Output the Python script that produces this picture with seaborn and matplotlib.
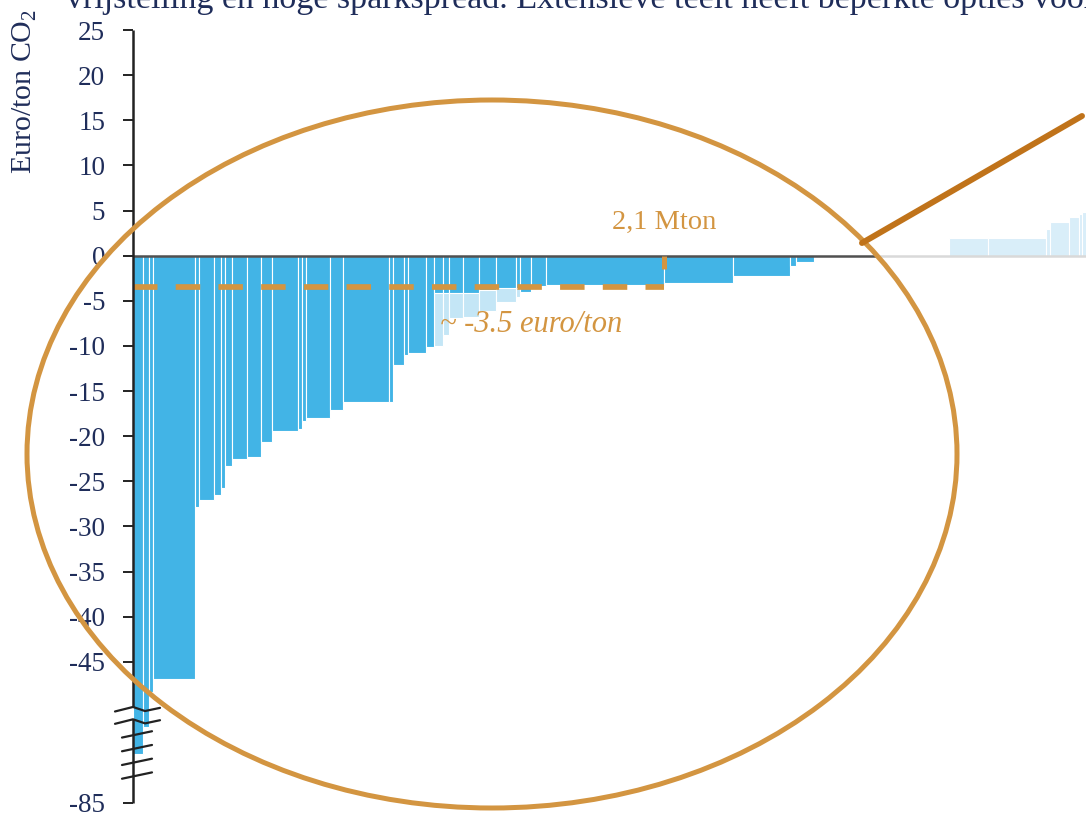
import numpy as np
import matplotlib
matplotlib.use("Agg")
import matplotlib.pyplot as plt
from matplotlib.patches import Ellipse
from matplotlib.lines import Line2D
import seaborn as sns

# Abatement measures in merit order: width = reduction potential (Mton CO2),
# height = cost (euro/ton CO2)
volumes = [0.040, 0.024, 0.016, 0.166, 0.016, 0.059, 0.028, 0.016, 0.028, 0.059,
           0.055, 0.043, 0.103, 0.016, 0.016, 0.095, 0.051, 0.182, 0.016, 0.043,
           0.016, 0.071, 0.032, 0.036, 0.024, 0.055, 0.063, 0.067, 0.079, 0.016,
           0.043, 0.059, 0.467, 0.273, 0.225, 0.024, 0.071, 0.032, 0.502, 0.154,
           0.229, 0.016, 0.075, 0.040, 0.012, 0.040]
costs = [-67.0, -57.3, -48.3, -46.9, -27.8, -27.1, -26.5, -25.7, -23.3, -22.5,
         -22.3, -20.7, -19.4, -19.2, -18.3, -18.0, -17.1, -16.2, -16.2, -12.1,
         -11.0, -10.8, -10.1, -4.1, -4.1, -4.1, -4.1, -3.8, -3.6, -3.6,
         -4.0, -3.4, -3.3, -3.0, -2.3, -1.1, -0.7, -0.15, 0.0, 2.0,
         2.0, 3.0, 3.7, 4.3, 4.6, 4.8]
# cost of the same measures under the less favourable variant (NaN = identical)
nan = np.nan
costs_variant = [nan] * 23 + [-10.0, -8.8, -6.9, -6.8, -6.1, -5.1, -4.6] + [nan] * 16

tick_values = [25, 20, 15, 10, 5, 0, -5, -10, -15, -20, -25, -30, -35, -40, -45, -85]
break_ticks = [-60, -65, -70, -75]
avg_cost = -3.5          # average cost of the package
package_volume = 2.1     # Mton reduced by the package
focus_limit = 2.94       # measures beyond this volume are shown faded
x_max = 3.768

title_text = ("vrijstelling en hoge sparkspread. Extensieve teelt heeft beperkte "
              "opties voor")
ylabel_text = "Euro/ton CO$_2$"
volume_label = "2,1 Mton"
cost_label = "~ -3.5 euro/ton"

BLUE = "#42b4e6"
BLUE_LIGHT = "#c4e6f6"
BLUE_FADED = "#d9eef9"
ORANGE = "#d39541"
ORANGE_DARK = "#c0731a"
NAVY = "#1f2d5a"

sns.set_theme(style="white")
plt.rcParams["font.family"] = ["Liberation Serif", "DejaVu Serif"]
plt.rcParams["mathtext.fontset"] = "custom"
plt.rcParams["mathtext.rm"] = "Liberation Serif"

# broken value axis: linear above -50, compressed below
BREAK, K = -50.0, 0.304


def fwd(y):
    y = np.asarray(y, dtype=float)
    return np.where(y >= BREAK, y, BREAK + (y - BREAK) * K)


def inv(y):
    y = np.asarray(y, dtype=float)
    return np.where(y >= BREAK, y, BREAK + (y - BREAK) / K)


W, H = 1086, 814
fig = plt.figure(figsize=(W / 100, H / 100), dpi=100)
ax = fig.add_axes([133 / W, 11 / H, 953 / W, 773 / H])
ax.set_yscale("function", functions=(fwd, inv))
ax.set_ylim(-85, 25)
ax.set_xlim(0, x_max)

lefts = np.concatenate([[0.0], np.cumsum(volumes)[:-1]])
vols = np.array(volumes)
c_main = np.array(costs)
c_var = np.array(costs_variant)
faded = lefts >= focus_limit

# variant costs behind the main bars
mask = ~np.isnan(c_var)
ax.bar(lefts[mask], c_var[mask], width=vols[mask], align="edge",
       color=BLUE_LIGHT, edgecolor="white", linewidth=0.8, zorder=1)
ax.bar(lefts[~faded], c_main[~faded], width=vols[~faded], align="edge",
       color=BLUE, edgecolor="white", linewidth=0.8, zorder=2)
ax.bar(lefts[faded], c_main[faded], width=vols[faded], align="edge",
       color=BLUE_FADED, edgecolor="white", linewidth=0.8, zorder=2)

# zero line: dark inside the highlighted part, light beyond
ax.plot([0, focus_limit], [0, 0], color="#505050", lw=1.8, zorder=4,
        solid_capstyle="butt")
ax.plot([focus_limit, x_max], [0, 0], color="#d9d9d9", lw=1.8, zorder=4,
        solid_capstyle="butt")

# average cost of the package, and the package volume marker
sns.lineplot(x=[0, package_volume], y=[avg_cost, avg_cost], ax=ax, color=ORANGE,
             lw=4.1, linestyle=(0, (4.3, 3.2)), zorder=5)
ax.plot([package_volume, package_volume], [0, -1.5], color=ORANGE, lw=3.6,
        zorder=5, solid_capstyle="butt")
ax.text(package_volume, 3.7, volume_label, ha="center", va="center",
        color=ORANGE, fontsize=20.5)
ax.text(1.214, -7.6, cost_label, ha="left", va="center", color=ORANGE,
        fontsize=22, style="italic")

# axis styling
sns.despine(ax=ax, left=True, bottom=True, right=True, top=True)
ax.set_yticks(tick_values)
ax.set_yticklabels([str(v) for v in tick_values])
ax.set_xticks([])
ax.tick_params(axis="y", which="major", length=7, width=1.4, color="#222222",
               pad=13, labelsize=19.5, labelcolor=NAVY, left=True)
ax.yaxis.set_minor_locator(matplotlib.ticker.NullLocator())

ytrans = ax.get_yaxis_transform()
px = 1 / 953.0  # one pixel in axes-x units
spine_kw = dict(color="#222222", lw=1.8, transform=ytrans, clip_on=False,
                zorder=6, solid_capstyle="butt")
ax.plot([0, 0], [25, BREAK], **spine_kw)
ax.plot([0, 0], [-54.5, -85], **spine_kw)

# break marks on the axis
for yb in [BREAK, -54.5]:
    xs = np.array([-18, 0, 12, 27]) * px
    dy = np.array([-0.5, 0.0, -0.45, -0.1])
    ys = fwd(yb) + dy
    ax.plot(xs, inv(ys), color="#222222", lw=1.6, transform=ytrans,
            clip_on=False, zorder=7)
for yt in break_ticks:
    ys = fwd(yt) + np.array([-0.35, 0.35])
    ax.plot(np.array([-11, 19]) * px, inv(ys), color="#222222", lw=1.6,
            transform=ytrans, clip_on=False, zorder=7)

ax.set_ylabel("")
fig.text(25 / W, 1 - 91 / H, ylabel_text, rotation=90, ha="center",
         va="center", color=NAVY, fontsize=21.5)
fig.text(66 / W, 1 - 8 / H, title_text, ha="left", va="baseline",
         color=NAVY, fontsize=24.5)

# highlight of the negative-cost part and the connector
fig.add_artist(Ellipse((492 / W, 1 - 454 / H), 930 / W, 708 / H,
                       transform=fig.transFigure, fill=False, ec=ORANGE,
                       lw=3.6, zorder=10))
fig.add_artist(Line2D([862 / W, 1082 / W], [1 - 243 / H, 1 - 116 / H],
                      transform=fig.transFigure, color=ORANGE_DARK, lw=4.3,
                      zorder=11))

fig.savefig("out.png", dpi=100)
